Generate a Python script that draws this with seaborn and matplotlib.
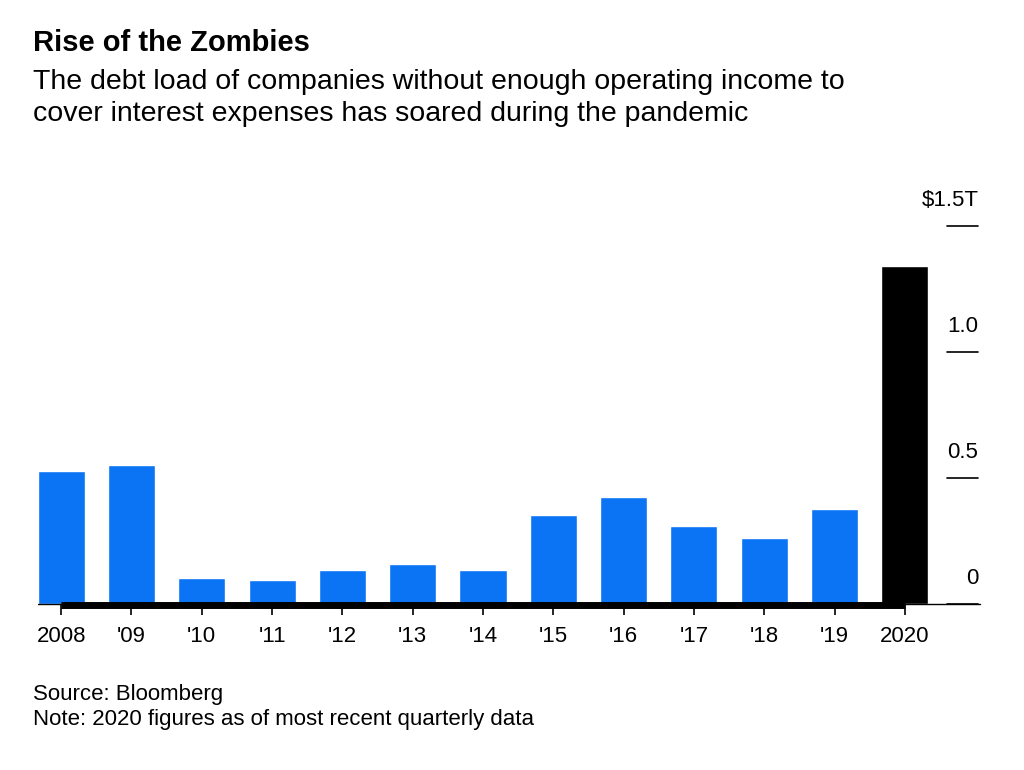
import matplotlib
matplotlib.use("Agg")
import matplotlib.pyplot as plt
import matplotlib.transforms as mtransforms
import pandas as pd
import seaborn as sns

# ---------------------------------------------------------------------------
# Data (debt of zombie companies, $ trillions)
# ---------------------------------------------------------------------------
years = ["2008", "'09", "'10", "'11", "'12", "'13", "'14",
         "'15", "'16", "'17", "'18", "'19", "2020"]
debt = [0.528, 0.552, 0.103, 0.095, 0.135, 0.159, 0.135,
        0.353, 0.425, 0.31, 0.262, 0.377, 1.341]
y_ticks = [0, 0.5, 1.0, 1.5]
y_labels = ["0", "0.5", "1.0", "$1.5T"]

sns.set_style("white")
plt.rcParams["font.family"] = ["Liberation Sans", "DejaVu Sans"]
plt.rcParams["text.color"] = "black"
plt.rcParams["xtick.color"] = "black"

df = pd.DataFrame({"year": years, "debt": debt})
colors = ["#0a74f5"] * (len(years) - 1) + ["#000000"]

fig = plt.figure(figsize=(10.24, 7.7), dpi=100)
ax = fig.add_axes([26 / 1024, 166 / 770, 914 / 1024, 403 / 770])

sns.barplot(data=df, x="year", y="debt", hue="year", palette=colors,
            legend=False, width=0.67, saturation=1, ax=ax)

ax.set_xlim(-0.5, len(years) - 0.5)
ax.set_ylim(0, 1.6)
for s in ax.spines.values():
    s.set_visible(False)
ax.set_yticks([])
ax.set_xlabel("")
ax.set_ylabel("")
ax.tick_params(axis="x", bottom=True, length=8, width=1.2, color="black",
               pad=8, labelsize=16)
ax.set_xticks(range(len(years)))
ax.set_xticklabels(years)

# baselines
blend = mtransforms.blended_transform_factory(ax.transAxes, ax.transData)
ax.plot([12 / 914, 954 / 914], [0, 0], transform=blend, color="black",
        lw=1, clip_on=False)
ax.plot([0, len(years) - 1], [-0.005, -0.005], color="black", lw=5,
        solid_capstyle="butt", clip_on=False, zorder=5)

# right-side value ticks
for v, lab in zip(y_ticks, y_labels):
    ax.plot([1.008, 1.042], [v, v], transform=blend, color="black",
            lw=1.2, clip_on=False)
    ax.text(1.042, v + 0.06, lab, transform=blend, ha="right",
            va="bottom", fontsize=16)

fig.text(33 / 1024, 1 - 43 / 770, "Rise of the Zombies", fontsize=21,
         fontweight="bold", va="center")
fig.text(33 / 1024, 1 - 98 / 770,
         "The debt load of companies without enough operating income to\n"
         "cover interest expenses has soared during the pandemic",
         fontsize=20.5, va="center", linespacing=1.3)
fig.text(33 / 1024, 1 - 707 / 770,
         "Source: Bloomberg\nNote: 2020 figures as of most recent quarterly data",
         fontsize=16, va="center", linespacing=1.25)

fig.savefig("out.png", dpi=100, facecolor="white")
